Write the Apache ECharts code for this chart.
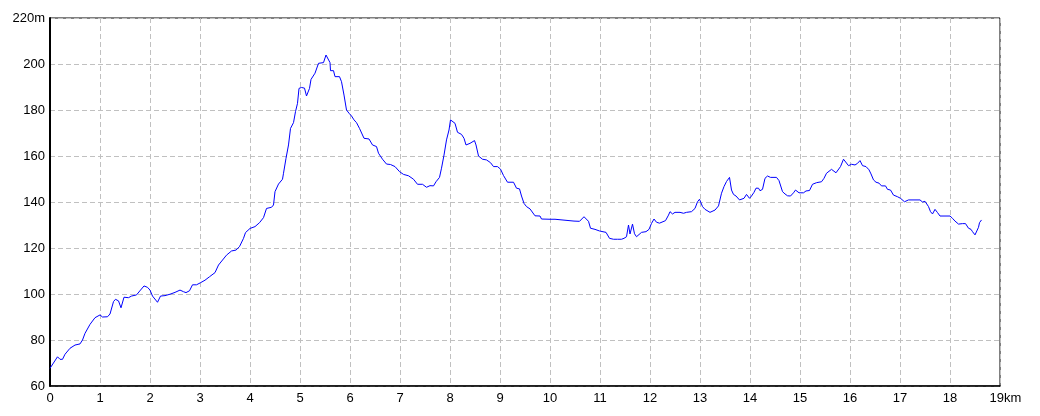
<!DOCTYPE html>
<html>
<head>
<meta charset="utf-8">
<script src="https://cdn.jsdelivr.net/npm/echarts@6/dist/echarts.min.js"></script>
<style>html,body{margin:0;padding:0;background:#fff}#c{width:1040px;height:416px}</style>
</head>
<body>
<div id="c"></div>
<script>
const distanceKm = [0.00,0.15,0.20,0.25,0.30,0.40,0.50,0.60,0.65,0.70,0.80,0.90,1.00,1.05,1.15,1.20,1.27,1.31,1.37,1.42,1.48,1.57,1.63,1.73,1.81,1.88,1.95,2.00,2.05,2.15,2.21,2.30,2.40,2.50,2.60,2.67,2.72,2.79,2.85,2.93,3.01,3.10,3.19,3.30,3.37,3.41,3.53,3.63,3.72,3.79,3.87,3.91,4.00,4.10,4.19,4.27,4.33,4.43,4.47,4.50,4.57,4.65,4.67,4.72,4.77,4.81,4.87,4.91,4.95,4.98,5.03,5.09,5.13,5.19,5.22,5.30,5.37,5.47,5.52,5.55,5.60,5.61,5.67,5.70,5.79,5.83,5.88,5.93,5.98,6.03,6.08,6.13,6.19,6.21,6.28,6.38,6.45,6.53,6.57,6.65,6.73,6.81,6.90,6.99,7.07,7.17,7.27,7.35,7.45,7.53,7.60,7.67,7.72,7.79,7.83,7.88,7.93,7.98,8.01,8.05,8.10,8.15,8.23,8.28,8.32,8.40,8.49,8.52,8.57,8.65,8.73,8.81,8.87,8.95,9.01,9.07,9.15,9.27,9.33,9.39,9.43,9.48,9.53,9.60,9.70,9.80,9.83,10.00,10.10,10.12,10.48,10.52,10.59,10.63,10.68,10.72,10.77,10.81,10.90,10.99,11.03,11.12,11.19,11.27,11.31,11.35,11.39,11.43,11.48,11.53,11.57,11.60,11.65,11.69,11.73,11.77,11.83,11.92,11.98,12.03,12.08,12.13,12.19,12.23,12.31,12.37,12.40,12.45,12.50,12.60,12.67,12.73,12.83,12.90,12.95,12.99,13.02,13.05,13.10,13.20,13.23,13.30,13.37,13.41,13.43,13.48,13.53,13.59,13.63,13.67,13.72,13.75,13.79,13.83,13.88,13.93,13.99,14.03,14.08,14.12,14.17,14.20,14.25,14.30,14.35,14.41,14.53,14.58,14.61,14.65,14.70,14.75,14.81,14.87,14.91,14.98,15.07,15.12,15.19,15.25,15.33,15.43,15.48,15.53,15.63,15.72,15.81,15.87,15.91,15.97,16.03,16.10,16.15,16.20,16.25,16.32,16.38,16.42,16.47,16.52,16.58,16.63,16.71,16.75,16.81,16.87,16.95,17.01,17.09,17.17,17.40,17.45,17.50,17.57,17.61,17.65,17.70,17.75,17.80,18.00,18.05,18.10,18.17,18.20,18.25,18.31,18.37,18.42,18.45,18.50,18.53,18.57,18.59,18.63];
const elevationM = [67.7,72.7,71.6,71.6,73.8,76.4,77.8,78.3,80.0,82.9,86.8,89.7,90.9,90.0,90.1,91.3,96.7,97.7,97.0,94.0,98.6,98.4,99.1,99.6,101.7,103.5,102.9,101.7,99.1,96.4,99.1,99.3,99.9,100.7,101.7,101.0,100.6,101.4,104.0,104.0,104.9,106.0,107.5,109.3,112.6,112.0,116.9,118.7,119.1,120.6,124.2,126.7,128.5,129.3,131.0,133.2,137.2,137.7,138.7,144.5,147.8,149.9,152.5,159.0,164.8,172.0,174.5,179.3,182.9,189.4,189.8,189.5,186.1,189.4,193.3,196.0,200.3,200.6,203.9,204.6,200.6,197.1,197.1,194.5,194.5,192.3,186.5,180.0,178.6,177.4,175.7,174.5,172.0,172.4,167.7,167.4,164.8,164.1,161.2,158.6,156.5,156.3,155.4,153.2,152.0,151.4,149.9,147.7,147.7,146.4,147.1,147.0,148.8,150.7,154.7,160.4,167.0,171.3,175.7,176.4,174.2,170.3,169.4,167.7,164.8,165.5,166.7,164.8,160.0,158.6,158.3,157.1,155.4,155.4,154.3,151.5,148.6,148.6,146.0,145.7,142.6,139.4,138.0,137.0,134.0,133.9,132.6,132.5,132.5,131.7,131.7,131.0,131.6,131.0,133.6,133.6,131.6,128.6,128.1,127.4,126.8,126.8,124.2,123.8,124.5,123.8,124.2,123.8,124.2,124.9,130.0,126.1,130.4,126.2,124.9,124.9,126.8,127.1,128.1,130.7,132.6,131.2,130.8,130.0,131.9,134.3,135.8,134.8,135.5,135.5,135.1,135.5,135.8,137.2,140.1,141.2,140.4,138.0,136.8,135.5,134.8,136.5,138.3,138.7,143.8,146.7,148.9,150.7,145.2,143.3,142.6,143.0,140.9,141.6,141.6,143.3,141.6,142.6,144.2,146.0,146.0,144.9,145.5,150.3,151.3,150.7,150.7,149.3,148.9,144.5,143.5,142.7,142.6,144.0,145.2,144.0,144.0,144.8,145.0,147.7,148.4,148.8,150.3,152.5,154.2,152.7,155.4,158.6,158.6,155.8,156.4,156.1,156.8,158.0,155.8,155.4,154.0,152.2,149.6,148.6,148.2,147.0,147.0,145.5,145.2,143.0,142.3,141.6,140.1,140.9,140.9,140.0,140.3,138.0,135.8,134.8,136.8,135.4,133.9,133.9,132.9,131.7,130.4,130.0,130.6,130.6,128.6,128.1,127.1,125.7,126.0,129.0,131.0,132.2];
const xTickLabels = ['0','1','2','3','4','5','6','7','8','9','10','11','12','13','14','15','16','17','18','19km'];
const yTickLabels = {60:'60',80:'80',100:'100',120:'120',140:'140',160:'160',180:'180',200:'200',220:'220m'};

const chart = echarts.init(document.getElementById('c'), null, {renderer:'canvas'});
const font = "'Liberation Sans', Arial, sans-serif";
const splitStyle = {show:true, lineStyle:{color:'#c0c0c0', width:1, type:[5,3]}};
chart.setOption({
  animation:false,
  backgroundColor:'#fff',
  grid:{left:50, top:18, width:950, height:368, show:true, borderColor:'#000', borderWidth:1, backgroundColor:'transparent'},
  xAxis:{
    type:'value', min:0, max:19, interval:1,
    axisLine:{show:true, lineStyle:{color:'#000', width:1.5}},
    axisTick:{show:false},
    splitLine:splitStyle,
    axisLabel:{
      color:'#000', fontSize:13, fontFamily:font, margin:6,
      formatter:function(v){ const s = xTickLabels[Math.round(v)]; return v===19 ? '{u|'+s+'}' : s; },
      rich:{u:{color:'#000', fontSize:13, fontFamily:font, padding:[0,0,0,11]}}
    }
  },
  yAxis:{
    type:'value', min:60, max:220, interval:20,
    axisLine:{show:true, lineStyle:{color:'#000', width:2}},
    axisTick:{show:false},
    splitLine:splitStyle,
    axisLabel:{color:'#000', fontSize:13, fontFamily:font, margin:5,
      formatter:function(v){ return yTickLabels[v] || String(v); }}
  },
  series:[{
    type:'line',
    data:distanceKm.map((d,i)=>[d, elevationM[i]]),
    showSymbol:false,
    symbol:'none',
    lineStyle:{color:'#0000ff', width:1},
    silent:true
  }]
});
</script>
</body>
</html>
